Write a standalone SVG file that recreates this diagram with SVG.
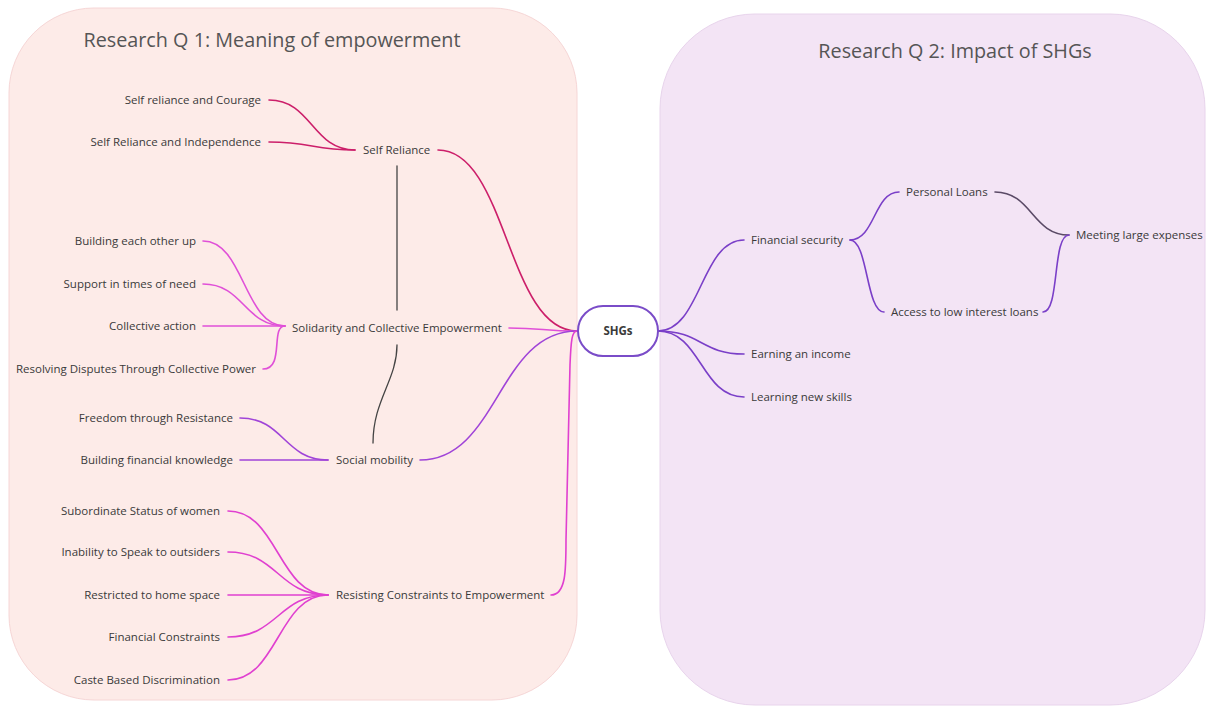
<svg xmlns="http://www.w3.org/2000/svg" width="1206" height="707" viewBox="0 0 1206 707">
<style>
.t{font-family:"Open Sans","Liberation Sans",sans-serif;font-size:11.5px;fill:#3a3a3a}
.r{text-anchor:end}
.h{font-family:"Open Sans","Liberation Sans",sans-serif;font-size:19.8px;fill:#555}
.c{fill:none;stroke-width:1.6;stroke-linecap:round}
.sr{stroke:#cc1f6a}
.so{stroke:#e050d8}
.sm{stroke:#a044d8}
.rc{stroke:#e040d0}
.pu{stroke:#7a3fc8}
.gr{stroke:#444;stroke-width:1.3}
</style>
<rect width="1206" height="707" fill="#fff"/>
<g id="panel1"><rect x="9" y="8" width="568" height="692" rx="85" fill="#fdebe8" stroke="#f6d6d6"/>
<text class="h" x="272" y="47" text-anchor="middle">Research Q 1: Meaning of empowerment</text></g>
<g id="panel2"><rect x="660" y="14" width="545" height="691" rx="95" fill="#f3e4f5" stroke="#e8d4ec"/>
<text class="h" x="955" y="58" text-anchor="middle">Research Q 2: Impact of SHGs</text></g>
<g id="connectors">
<path class="c sr" d="M269,100 C312,100 312,150 355,150"/>
<path class="c sr" d="M269,142 C312,142 312,150 355,150"/>
<path class="c sr" d="M438,150 C507,150 507,331 577,331"/>
<path class="c so" d="M203,241 C244,241 244,326 285,326"/>
<path class="c so" d="M203,284 C244,284 244,326 285,326"/>
<path class="c so" d="M203,326 L285,326"/>
<path class="c so" d="M263,369 C285,369 270,326 285,326"/>
<path class="c so" d="M509,328 C543,328 543,331 577,331"/>
<path class="c sm" d="M240,418 C284,418 284,460 328,460"/>
<path class="c sm" d="M240,460 L328,460"/>
<path class="c sm" d="M420,460 C498,460 498,331 577,331"/>
<path class="c rc" d="M228,511 C278,511 278,595 328,595"/>
<path class="c rc" d="M228,552 C278,552 278,595 328,595"/>
<path class="c rc" d="M228,595 L328,595"/>
<path class="c rc" d="M228,637 C278,637 278,595 328,595"/>
<path class="c rc" d="M228,680 C278,680 278,595 328,595"/>
<path class="c rc" d="M551,595 C566,595 566,570 566,540 L570,365 C571,340 572,331 577,331"/>
<path class="c gr" d="M397,166 L397,310"/>
<path class="c gr" d="M397,345 C397,380 373,400 373,443"/>
<path class="c pu" d="M658,331 C701,331 701,240 744,240"/>
<path class="c pu" d="M658,331 C701,331 701,354 744,354"/>
<path class="c pu" d="M658,331 C701,331 701,397 744,397"/>
<path class="c pu" d="M850,240 C875,240 874,192 899,192"/>
<path class="c pu" d="M850,240 C868,240 866,312 884,312"/>
<path class="c" stroke="#5a4a66" d="M995,192 C1032,192 1032,235 1069,235"/>
<path class="c pu" d="M1043,312 C1060,312 1052,235 1069,235"/>
</g>
<g id="n-shgs"><rect x="578" y="306" width="80" height="50" rx="25" fill="#fff" stroke="#7a4cc8" stroke-width="2"/>
<text class="t" x="618" y="335" text-anchor="middle" font-weight="bold">SHGs</text></g>
<g id="n-courage"><text class="t r" x="261" y="104">Self reliance and Courage</text></g>
<g id="n-independence"><text class="t r" x="261" y="146">Self Reliance and Independence</text></g>
<g id="n-selfreliance"><text class="t" x="363" y="154">Self Reliance</text></g>
<g id="n-building"><text class="t r" x="196" y="245">Building each other up</text></g>
<g id="n-support"><text class="t r" x="196" y="288">Support in times of need</text></g>
<g id="n-collective"><text class="t r" x="196" y="330">Collective action</text></g>
<g id="n-resolving"><text class="t r" x="256" y="373">Resolving Disputes Through Collective Power</text></g>
<g id="n-solidarity"><text class="t" x="292" y="332">Solidarity and Collective Empowerment</text></g>
<g id="n-freedom"><text class="t r" x="233" y="422">Freedom through Resistance</text></g>
<g id="n-finknow"><text class="t r" x="233" y="464">Building financial knowledge</text></g>
<g id="n-social"><text class="t" x="336" y="464">Social mobility</text></g>
<g id="n-subordinate"><text class="t r" x="220" y="515">Subordinate Status of women</text></g>
<g id="n-inability"><text class="t r" x="220" y="556">Inability to Speak to outsiders</text></g>
<g id="n-restricted"><text class="t r" x="220" y="599">Restricted to home space</text></g>
<g id="n-finconst"><text class="t r" x="220" y="641">Financial Constraints</text></g>
<g id="n-caste"><text class="t r" x="220" y="684">Caste Based Discrimination</text></g>
<g id="n-resisting"><text class="t" x="336" y="599">Resisting Constraints to Empowerment</text></g>
<g id="n-finsec"><text class="t" x="751" y="244">Financial security</text></g>
<g id="n-income"><text class="t" x="751" y="358">Earning an income</text></g>
<g id="n-skills"><text class="t" x="751" y="401">Learning new skills</text></g>
<g id="n-personal"><text class="t" x="906" y="196">Personal Loans</text></g>
<g id="n-access"><text class="t" x="891" y="316">Access to low interest loans</text></g>
<g id="n-meeting"><text class="t" x="1076" y="239">Meeting large expenses</text></g>
</svg>
